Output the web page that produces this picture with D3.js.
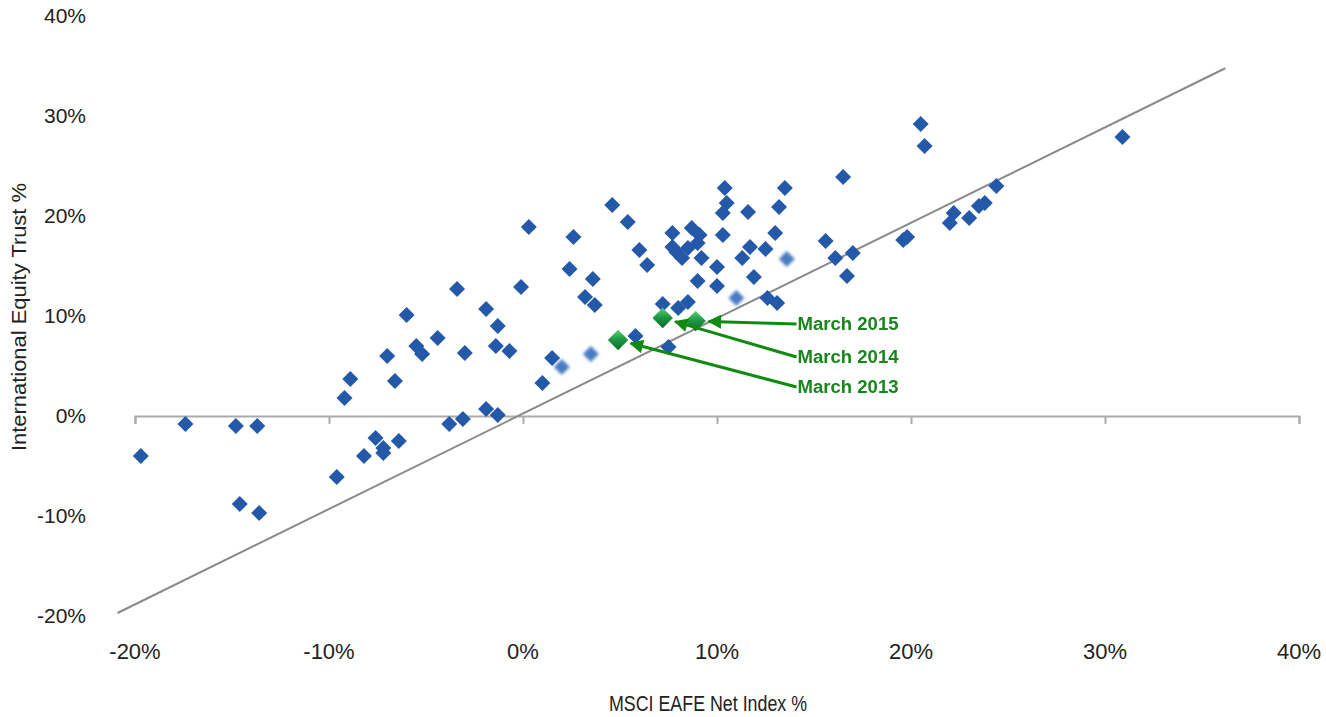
<!DOCTYPE html>
<html>
<head>
<meta charset="utf-8">
<script src="https://cdn.jsdelivr.net/npm/d3@7"></script>
<style>
  body { margin: 0; background: #ffffff; }
  svg { display: block; }
  text { font-family: "Liberation Sans", Arial, sans-serif; }
</style>
</head>
<body>
<svg id="chart" width="1326" height="717"></svg>
<script>
// Annual returns (%): MSCI EAFE Net Index vs. International Equity Trust
const indexReturns = [
  -19.7, -17.4, -14.8, -13.7, -14.6, -13.6, -9.6, -9.2, -8.9, -8.2,
  -7.6, -7.2, -7.2, -7.0, -6.6, -6.4, -6.0, -5.5, -5.2, -4.4,
  -3.8, -3.1, -3.4, -3.0, -1.9, -1.3, -1.4, -0.7, -1.9, -1.3,
  -0.1, 0.3, 1.0, 1.5, 2.4, 2.6, 3.2, 3.7, 3.6, 4.6,
  5.4, 5.8, 6.0, 6.4, 7.2, 7.5, 7.7, 8.7, 9.1, 9.0,
  8.5, 7.9, 8.2, 7.7, 8.0, 8.5, 9.0, 9.2, 10.0, 10.0,
  10.3, 10.3, 10.5, 10.4, 11.6, 13.2, 13.5, 13.0, 11.7, 12.5,
  11.3, 11.9, 12.6, 13.1, 15.6, 16.1, 17.0, 16.7, 16.5, 19.6,
  19.8, 20.5, 20.7, 22.0, 22.2, 23.0, 23.5, 23.8, 24.4, 30.9
];
const trustReturns = [
  -4.0, -0.8, -1.0, -1.0, -8.8, -9.7, -6.1, 1.8, 3.7, -4.0,
  -2.2, -3.2, -3.7, 6.0, 3.5, -2.5, 10.1, 7.0, 6.2, 7.8,
  -0.8, -0.3, 12.7, 6.3, 10.7, 9.0, 7.0, 6.5, 0.7, 0.1,
  12.9, 18.9, 3.3, 5.8, 14.7, 17.9, 11.9, 11.1, 13.7, 21.1,
  19.4, 8.0, 16.6, 15.1, 11.2, 6.9, 18.3, 18.8, 18.1, 17.3,
  16.8, 16.4, 15.8, 16.9, 10.8, 11.4, 13.5, 15.8, 14.9, 13.0,
  18.1, 20.3, 21.3, 22.8, 20.4, 20.9, 22.8, 18.3, 16.9, 16.7,
  15.8, 13.9, 11.8, 11.3, 17.5, 15.8, 16.3, 14.0, 23.9, 17.6,
  17.9, 29.2, 27.0, 19.3, 20.3, 19.8, 21.0, 21.3, 23.0, 27.9
];

// Periods shown softened
const softIndexReturns = [2.0, 3.5, 11.0, 13.6];
const softTrustReturns = [4.9, 6.2, 11.8, 15.7];

// Highlighted recent periods
const highlightLabels = ["March 2013", "March 2014", "March 2015"];
const highlightIndex = [4.9, 7.2, 8.9];
const highlightTrust = [7.6, 9.8, 9.5];
const calloutIndex = [14.1, 14.1, 14.1];
const calloutTrust = [2.9, 5.9, 9.2];

// Axis ticks
const xTicks = [-20, -10, 0, 10, 20, 30, 40];
const yTicks = [-20, -10, 0, 10, 20, 30, 40];

// Linear fit of trust vs. index
const fitSlope = 0.954;
const fitIntercept = 0.24;
const fitRange = [-20.9, 36.2];

const svg = d3.select("#chart");

const x = d3.scaleLinear().domain([-20, 40]).range([135, 1299]);
const y = d3.scaleLinear().domain([-20, 40]).range([616, 16]);
const pct = d => d + "%";

const defs = svg.append("defs");
defs.append("filter").attr("id", "soft")
  .attr("x", "-50%").attr("y", "-50%").attr("width", "200%").attr("height", "200%")
  .append("feGaussianBlur").attr("stdDeviation", 1.6);
defs.append("filter").attr("id", "softGreen")
  .attr("x", "-50%").attr("y", "-50%").attr("width", "200%").attr("height", "200%")
  .append("feGaussianBlur").attr("stdDeviation", 0.6);
const grad = defs.append("linearGradient").attr("id", "greenGrad")
  .attr("x1", "0").attr("y1", "0").attr("x2", "1").attr("y2", "1");
grad.append("stop").attr("offset", "0%").attr("stop-color", "#5cd27a");
grad.append("stop").attr("offset", "45%").attr("stop-color", "#1f9a45");
grad.append("stop").attr("offset", "100%").attr("stop-color", "#0b6a2a");
defs.append("marker").attr("id", "arrowHead")
  .attr("viewBox", "0 0 10 10").attr("refX", 9).attr("refY", 5)
  .attr("markerWidth", 5.4).attr("markerHeight", 4.6)
  .attr("markerUnits", "strokeWidth").attr("orient", "auto")
  .append("path").attr("d", "M0,0 L10,5 L0,10 Z").attr("fill", "#108a10");

// Horizontal axis through 0% with ticks below the line
const xAxis = d3.axisBottom(x).tickValues(xTicks).tickSize(8).tickFormat("");
const xAxisG = svg.append("g").attr("transform", `translate(0,${y(0)})`).call(xAxis);
xAxisG.select(".domain").attr("stroke", "#ababab").attr("stroke-width", 2);
xAxisG.selectAll(".tick line").attr("stroke", "#ababab").attr("stroke-width", 2);

// X tick labels sit below the plot
svg.append("g").selectAll("text").data(xTicks).join("text")
  .attr("x", d => x(d)).attr("y", 659)
  .attr("text-anchor", "middle")
  .attr("font-size", 22).attr("fill", "#222")
  .text(pct);

// Y tick labels (no axis line)
svg.append("g").selectAll("text").data(yTicks).join("text")
  .attr("x", 86).attr("y", d => y(d) + 7)
  .attr("text-anchor", "end")
  .attr("font-size", 21).attr("fill", "#222")
  .text(pct);

// Axis titles
svg.append("text").attr("x", 708).attr("y", 711)
  .attr("text-anchor", "middle").attr("font-size", 22).attr("fill", "#222")
  .attr("textLength", 198).attr("lengthAdjust", "spacingAndGlyphs")
  .text("MSCI EAFE  Net Index %");
svg.append("text")
  .attr("transform", `translate(26,${317}) rotate(-90)`)
  .attr("text-anchor", "middle").attr("font-size", 21).attr("fill", "#222")
  .attr("textLength", 268).attr("lengthAdjust", "spacingAndGlyphs")
  .text("International Equity Trust %");

// Fit line
svg.append("line")
  .attr("x1", x(fitRange[0])).attr("y1", y(fitSlope * fitRange[0] + fitIntercept))
  .attr("x2", x(fitRange[1])).attr("y2", y(fitSlope * fitRange[1] + fitIntercept))
  .attr("stroke", "#8a8a8a").attr("stroke-width", 2);

const diamond = d3.symbol().type(d3.symbolSquare).size(128);
const bigDiamond = d3.symbol().type(d3.symbolSquare).size(210);

// Blue points
svg.append("g").selectAll("path").data(d3.range(indexReturns.length)).join("path")
  .attr("d", diamond)
  .attr("transform", i => `translate(${x(indexReturns[i])},${y(trustReturns[i])}) rotate(45)`)
  .attr("fill", "#2459a9");

// Softened points
svg.append("g").attr("filter", "url(#soft)")
  .selectAll("path").data(d3.range(softIndexReturns.length)).join("path")
  .attr("d", diamond)
  .attr("transform", i => `translate(${x(softIndexReturns[i])},${y(softTrustReturns[i])}) rotate(45)`)
  .attr("fill", "#4a7cc4");

// Callout arrows
const callouts = d3.range(highlightLabels.length).map(i => {
  const px = x(highlightIndex[i]), py = y(highlightTrust[i]);
  const lx = x(calloutIndex[i]), ly = y(calloutTrust[i]);
  const dx = lx - px, dy = ly - py, len = Math.hypot(dx, dy);
  return { px, py, lx, ly, tx: px + dx / len * 13, ty: py + dy / len * 13, label: highlightLabels[i] };
});

// Highlighted diamonds
svg.append("g").attr("filter", "url(#softGreen)")
  .selectAll("path").data(callouts).join("path")
  .attr("d", bigDiamond)
  .attr("transform", d => `translate(${d.px},${d.py}) rotate(45)`)
  .attr("fill", "url(#greenGrad)");

svg.append("g").selectAll("line").data(callouts).join("line")
  .attr("x1", d => d.lx).attr("y1", d => d.ly)
  .attr("x2", d => d.tx).attr("y2", d => d.ty)
  .attr("stroke", "#108a10").attr("stroke-width", 3)
  .attr("marker-end", "url(#arrowHead)");

svg.append("g").selectAll("text").data(callouts).join("text")
  .attr("x", d => d.lx + 1).attr("y", d => d.ly + 6)
  .attr("font-size", 18).attr("font-weight", "bold").attr("fill", "#17861c")
  .attr("textLength", 101).attr("lengthAdjust", "spacingAndGlyphs")
  .text(d => d.label);
</script>
</body>
</html>
